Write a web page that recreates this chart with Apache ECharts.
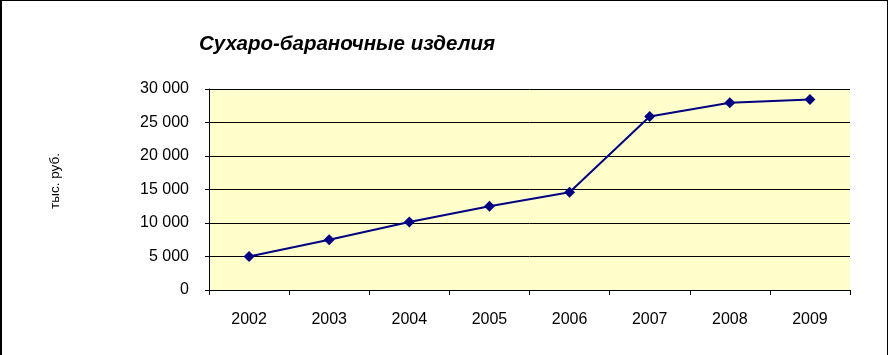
<!DOCTYPE html>
<html><head><meta charset="utf-8">
<script src="https://cdn.jsdelivr.net/npm/echarts@6/dist/echarts.min.js"></script>
<style>
html,body{margin:0;padding:0;background:#fff;}
#c{position:absolute;left:0;top:0;width:888px;height:355px;}
#b{position:absolute;left:0;top:0;width:885px;height:360px;border-left:2px solid #000;border-top:1px solid #000;border-right:1px solid #000;pointer-events:none;}
</style></head>
<body>
<div id="c"></div><div id="b"></div>
<script>
const categories = ['2002','2003','2004','2005','2006','2007','2008','2009'];
const values = [5000, 7500, 10150, 12500, 14600, 25900, 27950, 28450];
const titleText = 'Сухаро-бараночные изделия';
const yName = 'тыс. руб.';

const chart = echarts.init(document.getElementById('c'), null, {renderer:'canvas'});
const fmt = v => v === 0 ? '0' : String(v).replace(/\B(?=(\d{3})+(?!\d))/g, ' ');
chart.setOption({
  animation:false,
  title:{text:titleText, left:342, top:29, textAlign:'center',
    textStyle:{fontFamily:'Liberation Sans', fontSize:20.5, fontWeight:'bold', fontStyle:'italic', color:'#000'}},
  graphic:[{type:'text', x:48, y:181, rotation:Math.PI/2,
    style:{text:yName, font:'13.5px "Liberation Sans"', fill:'#000', textAlign:'center', textVerticalAlign:'top'}}],
  grid:{left:209, right:38, top:89, bottom:65, show:true, backgroundColor:'#FFFFCC', borderWidth:0},
  xAxis:{type:'category', data:categories, boundaryGap:true,
    axisLine:{lineStyle:{color:'#000', width:1}},
    axisTick:{show:true, length:5, lineStyle:{color:'#000'}},
    axisLabel:{color:'#000', fontFamily:'Liberation Sans', fontSize:16, margin:22},
    splitLine:{show:false}},
  yAxis:{type:'value', min:0, max:30000, interval:5000,
    axisLine:{show:true, lineStyle:{color:'#000'}},
    axisTick:{show:true, length:4, lineStyle:{color:'#000'}},
    axisLabel:{color:'#000', fontFamily:'Liberation Sans', fontSize:16, margin:20, formatter:fmt},
    splitLine:{show:true, lineStyle:{color:'#000', width:1}}},
  series:[{type:'line', data:values, symbol:'diamond', symbolSize:11,
    lineStyle:{color:'#000080', width:2}, itemStyle:{color:'#000080'}}]
});
</script>
</body></html>
